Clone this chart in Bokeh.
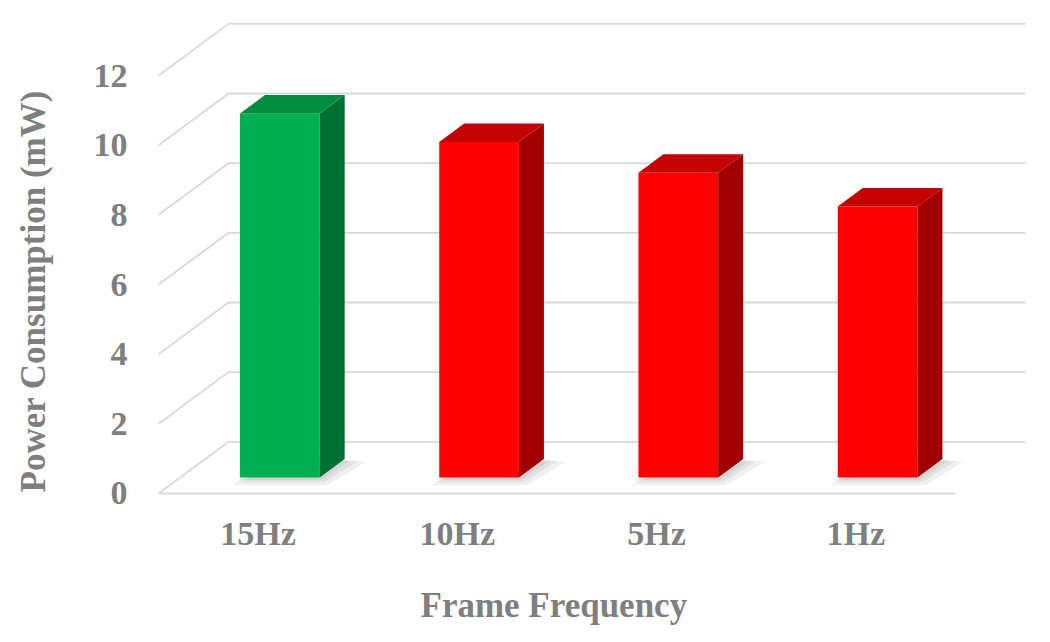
from bokeh.plotting import figure
from bokeh.models import Range1d, FixedTicker, Title
from bokeh.embed import file_html
from bokeh.resources import INLINE

# ---- data ----
categories = ["15Hz", "10Hz", "5Hz", "1Hz"]
power_mw = [10.45, 9.63, 8.75, 7.78]
front_colors = ["#00B050", "#FF0000", "#FF0000", "#FF0000"]
side_colors = ["#007030", "#A00000", "#A00000", "#A00000"]
top_colors = ["#008C3E", "#C40000", "#C40000", "#C40000"]
y_ticks = [0, 2, 4, 6, 8, 10, 12]
y_title = "Power Consumption (mW)"
x_title = "Frame Frequency"

# ---- 3D (oblique) geometry ----
DX = 0.3513   # depth offset in x (category units)
DY = 1.484    # depth offset in y (value units)
D0, D1 = 0.31, 0.667   # bar depth extent (fraction of floor depth)
W = 0.40               # bar width (category units)
N = len(categories)

TEXT = "#7F7F7F"
FONT = "Liberation Serif"

p = figure(width=1048, height=640,
           x_range=Range1d(0, N + DX), y_range=Range1d(-0.201, 13.695),
           output_backend="svg", toolbar_location=None,
           min_border_left=158, min_border_right=23,
           min_border_top=16, min_border_bottom=140)
p.outline_line_color = None
p.grid.visible = False
p.background_fill_color = "white"
p.border_fill_color = "white"

# gridlines: front edge -> back wall -> across back wall
gx = [[0, DX, N + DX] for v in y_ticks] + [[0, N]]
gy = [[v, v + DY, v + DY] for v in y_ticks] + [[0, 0]]
p.multi_line(gx, gy, line_color="#D9D9D9", line_width=1.8)

# bars
ddx = (D1 - D0) * DX
ddy = (D1 - D0) * DY
lefts, rights, bottoms, tops = [], [], [], []
side_xs, side_ys, top_xs, top_ys = [], [], [], []
for i, v in enumerate(power_mw):
    cx = i + 0.5 + D0 * DX
    L, R = cx - W / 2, cx + W / 2
    B = D0 * DY
    T = v + B
    lefts.append(L); rights.append(R); bottoms.append(B); tops.append(T)
    side_xs.append([R, R + ddx, R + ddx, R])
    side_ys.append([B, B + ddy, T + ddy, T])
    top_xs.append([L, L + ddx, R + ddx, R])
    top_ys.append([T, T + ddy, T + ddy, T])

# soft floor shadows
for ex, ey in [(0.08, 0.22), (0.05, 0.14), (0.025, 0.07)]:
    xs, ys = [], []
    for L, R, B in zip(lefts, rights, bottoms):
        xs.append([L - ex * 0.5, R + ex * 0.5, R + ddx + ex * 1.4, L + ddx + ex])
        ys.append([B - ey, B - ey, B + ddy - ey * 0.3, B + ddy - ey * 0.3])
    p.patches(xs, ys, fill_color="#000000", fill_alpha=0.06, line_color=None)

p.quad(left=lefts, right=rights, bottom=bottoms, top=tops,
       fill_color=front_colors, line_color=None)
p.patches(side_xs, side_ys, fill_color=side_colors, line_color=None)
p.patches(top_xs, top_ys, fill_color=top_colors, line_color=None)

# axes
p.yaxis.ticker = FixedTicker(ticks=y_ticks)
p.xaxis.ticker = FixedTicker(ticks=[i + 0.5 for i in range(N)])
p.xaxis.major_label_overrides = {i + 0.5: c for i, c in enumerate(categories)}
for ax in (p.xaxis, p.yaxis):
    ax.axis_line_color = None
    ax.major_tick_line_color = None
    ax.minor_tick_line_color = None
    ax.major_tick_out = 0
    ax.major_tick_in = 0
    ax.major_label_text_font = FONT
    ax.major_label_text_font_size = "34px"
    ax.major_label_text_font_style = "bold"
    ax.major_label_text_color = TEXT
p.yaxis.major_label_standoff = 31
p.xaxis.major_label_standoff = 14
# blank axis labels used only as spacing between tick labels and titles
p.yaxis.axis_label = " "
p.yaxis.axis_label_text_font_size = "16px"
p.yaxis.axis_label_standoff = 8
p.xaxis.axis_label = " "
p.xaxis.axis_label_text_font_size = "10px"
p.xaxis.axis_label_standoff = 3

# axis titles
p.add_layout(Title(text=y_title, align="left", offset=8, standoff=20,
                   text_font=FONT, text_font_size="35px", text_font_style="bold",
                   text_color=TEXT), "left")
p.add_layout(Title(text=x_title, align="left", offset=262, standoff=24,
                   text_font=FONT, text_font_size="35px", text_font_style="bold",
                   text_color=TEXT), "below")

open("out.html", "w").write(file_html(p, INLINE))
